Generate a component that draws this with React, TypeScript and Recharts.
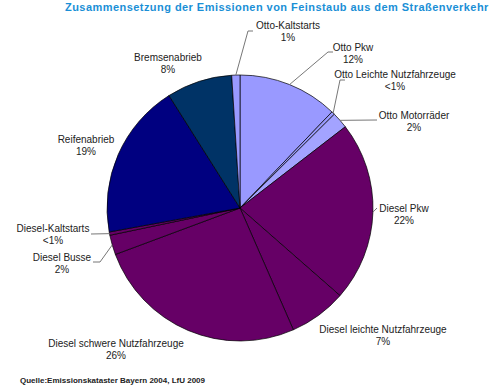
import React from "react"
import { PieChart, Pie, Cell } from "recharts"

// clockwise from 12 o'clock
const categories = [
  "Otto Pkw",
  "Otto Leichte Nutzfahrzeuge",
  "Otto Motorräder",
  "Diesel Pkw",
  "Diesel leichte Nutzfahrzeuge",
  "Diesel schwere Nutzfahrzeuge",
  "Diesel Busse",
  "Diesel-Kaltstarts",
  "Reifenabrieb",
  "Bremsenabrieb",
  "Otto-Kaltstarts",
]
const shares = [12.2, 0.4, 2, 22, 7, 26, 2.4, 0.4, 19, 8, 1]
const shareLabels = ["12%", "<1%", "2%", "22%", "7%", "26%", "2%", "<1%", "19%", "8%", "1%"]
const sliceColors = [
  "#9999ff",
  "#9999ff",
  "#a3a3ff",
  "#660066",
  "#660066",
  "#660066",
  "#660066",
  "#660066",
  "#000080",
  "#003366",
  "#9999ff",
]

const data = categories.map((name, i) => ({ name, value: shares[i], label: shareLabels[i] }))

// label text centre + leader bends, relative to pie centre
const labelLayout: Record<string, { tx: number; ty: number; leader?: [number, number][] }> = {
  "Otto Pkw": { tx: 113, ty: -161, leader: [[88, -156], [93, -156]] },
  "Otto Leichte Nutzfahrzeuge": { tx: 155, ty: -134, leader: [[100, -128], [105, -128]] },
  "Otto Motorräder": { tx: 174, ty: -93, leader: [[137, -88]] },
  "Diesel Pkw": { tx: 164, ty: 0, leader: [[137, 0]] },
  "Diesel leichte Nutzfahrzeuge": { tx: 143, ty: 121 },
  "Diesel schwere Nutzfahrzeuge": { tx: -124, ty: 135 },
  "Diesel Busse": { tx: -178, ty: 49, leader: [[-140, 54], [-147, 54]] },
  "Diesel-Kaltstarts": { tx: -187, ty: 20, leader: [[-149, 26]] },
  Reifenabrieb: { tx: -154, ty: -69 },
  Bremsenabrieb: { tx: -72, ty: -151 },
  "Otto-Kaltstarts": { tx: 48, ty: -183, leader: [[8, -177], [13, -177]] },
}

const RAD = Math.PI / 180
const font = "Arial, 'Liberation Sans', sans-serif"

const renderLabel = (props: any) => {
  const { cx, cy, midAngle, outerRadius, index } = props
  const d = data[index]
  const lay = labelLayout[d.name]
  if (!lay) return null
  const ax = cx + outerRadius * Math.cos(-midAngle * RAD)
  const ay = cy + outerRadius * Math.sin(-midAngle * RAD)
  const pts = lay.leader ? [[ax, ay], ...lay.leader.map(([x, y]) => [cx + x, cy + y])] : null
  const tx = cx + lay.tx
  const ty = cy + lay.ty
  return (
    <g key={`lbl-${index}`}>
      {pts && (
        <polyline points={pts.map((p) => p.join(",")).join(" ")} fill="none" stroke="#777" strokeWidth={1} />
      )}
      <text x={tx} y={ty + 3.5} textAnchor="middle" fontSize={10} fontFamily={font} fill="#222">
        <tspan x={tx}>{d.name}</tspan>
        <tspan x={tx} dy={12.5}>
          {d.label}
        </tspan>
      </text>
    </g>
  )
}

export default function App() {
  return (
    <div style={{ position: "fixed", left: 0, top: 0, width: 500, height: 389, background: "#fff" }}>
      <div
        style={{
          position: "absolute",
          left: 65,
          top: 1,
          whiteSpace: "nowrap",
          fontFamily: font,
          fontWeight: "bold",
          fontSize: 11,
          letterSpacing: 0.45,
          color: "#1a8fd6",
        }}
      >
        Zusammensetzung der Emissionen von Feinstaub aus dem Straßenverkehr
      </div>
      <PieChart
        width={500}
        height={389}
        margin={{ top: 0, right: 0, bottom: 0, left: 0 }}
        style={{ position: "absolute", left: 0, top: 0 }}
      >
        <Pie
          data={data}
          dataKey="value"
          nameKey="name"
          cx={240}
          cy={208}
          outerRadius={133}
          startAngle={90}
          endAngle={-270}
          stroke="#000"
          strokeWidth={0.7}
          label={renderLabel}
          labelLine={false}
          isAnimationActive={false}
        >
          {data.map((d, i) => (
            <Cell key={d.name} fill={sliceColors[i]} />
          ))}
        </Pie>
      </PieChart>
      <div
        style={{
          position: "absolute",
          left: 20,
          top: 376,
          whiteSpace: "nowrap",
          fontFamily: font,
          fontWeight: "bold",
          fontSize: 8,
          letterSpacing: 0,
          color: "#222",
        }}
      >
        Quelle:Emissionskataster Bayern 2004, LfU 2009
      </div>
    </div>
  )
}
